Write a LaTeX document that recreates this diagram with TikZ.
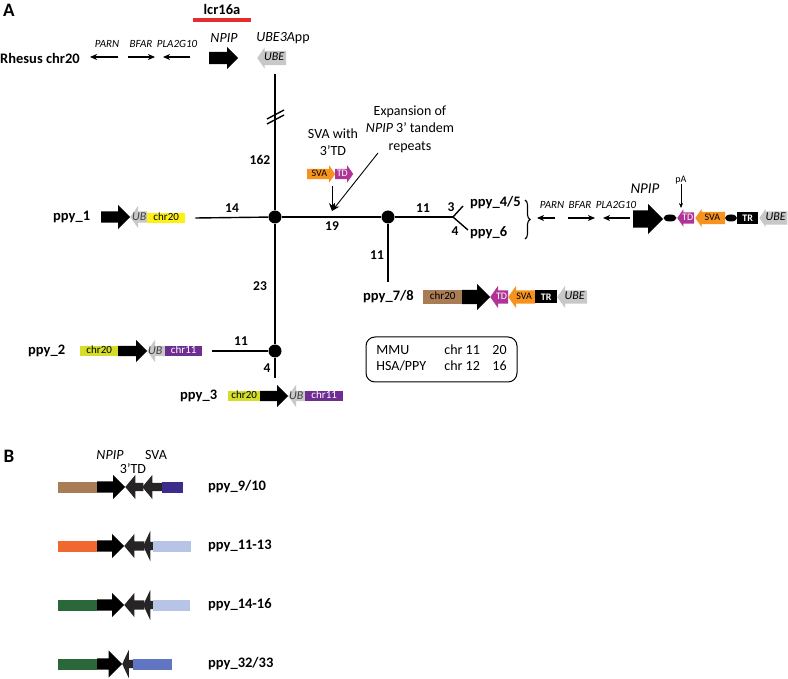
\documentclass[tikz,border=0pt]{standalone}
\usepackage{fontspec}
\setmainfont{Carlito}
\usetikzlibrary{shapes.arrows,shapes.geometric,arrows.meta,positioning,decorations.pathreplacing}

\definecolor{lcrred}{RGB}{230,45,45}
\definecolor{brightyel}{RGB}{255,240,20}
\definecolor{limeyel}{RGB}{212,222,40}
\definecolor{chrpurple}{RGB}{110,45,145}
\definecolor{chrbrown}{RGB}{168,124,84}
\definecolor{tdpink}{RGB}{176,52,150}
\definecolor{svaorange}{RGB}{246,146,30}
\definecolor{ubegray}{RGB}{200,200,200}
\definecolor{redorange}{RGB}{240,104,48}
\definecolor{darkgreen}{RGB}{42,104,58}
\definecolor{paleblue}{RGB}{184,196,230}
\definecolor{indigo}{RGB}{62,44,140}
\definecolor{midblue}{RGB}{96,118,194}
\definecolor{nearblack}{RGB}{38,36,36}

\tikzset{
  lab/.style={font=\bfseries\fontsize{14.5}{16}\selectfont, inner sep=0pt},
  num/.style={font=\bfseries\fontsize{13.5}{15}\selectfont, inner sep=0pt},
  txt/.style={font=\fontsize{14}{17.5}\selectfont, inner sep=0pt, align=center},
  gname/.style={font=\itshape\fontsize{11}{12}\selectfont, inner sep=0pt},
  branch/.style={line width=1.4pt},
  dot/.style={circle, fill=black, inner sep=0pt, minimum size=13pt},
  thinarr/.style={line width=1.2pt, -{Stealth[length=7pt,width=6pt,inset=2pt]}},
  pointer/.style={line width=0.9pt, -{Stealth[length=8pt,width=6pt]}},
  gene/.style={single arrow, draw=none, inner xsep=0pt, inner ysep=0pt, minimum width=0pt,
    font=\fontsize{10}{10}\selectfont},
  dims/.style 2 args={text height={#1*0.5pt+3pt}, text depth={#1*0.5pt-3pt},
    single arrow head extend={(#2-#1)*0.5pt}},
  leftward/.style={shape border rotate=180},
  chrbox/.style={rectangle, inner sep=0pt, text height=7pt, text depth=2pt,
    font=\fontsize{11}{11}\selectfont, anchor=west},
  ubtxt/.style={font=\itshape\fontsize{12}{12}\selectfont, text=black!75, inner sep=0pt, anchor=west},
}

\begin{document}
\begin{tikzpicture}[x=1pt,y=-1pt]
\useasboundingbox (0,0) rectangle (788,679);

% panel A: rhesus
\node[lab, font=\bfseries\fontsize{19}{20}\selectfont] (pa) at (9,10) {A};
\node[lab] (lcr) at (222,9) {lcr16a};
\draw[lcrred, line width=3.2pt] (193,20) -- (251,20);
\node[lab, anchor=west] (rhesus) at (0,58) {Rhesus chr20};
\node[gname] (parn0) at (107,44) {PARN};
\node[gname] (bfar0) at (141,44) {BFAR};
\node[gname] (pla0) at (177,44) {PLA2G10};
\draw[thinarr] (118,57) -- (90,57);
\draw[thinarr] (128,57) -- (155,57);
\draw[thinarr] (190,57) -- (163,57);
\node[gene, fill=black, dims={12}{22}, minimum height=29pt, anchor=tail] (npip0) at (209,58) {};
\node[gname, font=\itshape\fontsize{14}{16}\selectfont] (npiplab0) at (224,38) {NPIP};
\node[gname, font=\fontsize{14}{16}\selectfont] (ubelab0) at (283,38) {\textit{UBE3A}pp};
\node[gene, leftward, fill=ubegray, dims={14}{21}, minimum height=29pt, anchor=tip, single arrow tip angle=110,
  font=\itshape\fontsize{12}{12}\selectfont] (ube0) at (257,58) {UBE};

% tree
\coordinate (top) at (275,74);
\node[dot] (j1) at (275,217) {};
\node[dot] (j2) at (388,217) {};
\node[dot] (j3) at (275,351) {};
\coordinate (fk) at (453,217);
\coordinate (e45) at (463,206);
\coordinate (e6) at (468,230);
\coordinate (e78) at (388,282);
\coordinate (e3) at (275,378);
\draw[branch] (top) -- (j1);
\draw[branch] (267,119) -- (284,110) (267,124) -- (284,115);
\draw[branch] (j1) -- (j2);
\draw[branch] (j2) -- (fk);
\draw[branch] (fk) -- (e45);
\draw[branch] (fk) -- (e6);
\draw[branch] (j2) -- (e78);
\draw[branch] (j1) -- (j3);
\draw[branch] (j3) -- (e3);
\node[num] (n162) at (260,160) {162};
\node[num] (n14) at (232,208) {14};
\node[num] (n19) at (332,226) {19};
\node[num] (n11a) at (423,208) {11};
\node[num] (n3) at (451,207) {3};
\node[num] (n4a) at (455,231) {4};
\node[num] (n11b) at (377,255) {11};
\node[num] (n23) at (260,286) {23};
\node[num] (n11c) at (241,341) {11};
\node[num] (n4b) at (267,368) {4};

% ppy_1
\node[lab, anchor=west] (ppy1) at (53,217) {ppy\_1};
\node[gene, fill=black, dims={11}{24}, minimum height=29pt, anchor=tail] (p1n) at (101,217) {};
\node[gene, leftward, fill=ubegray, dims={11}{22}, minimum height=17pt, anchor=tip, single arrow tip angle=110] (p1u) at (130,217) {};
\node[ubtxt] (p1ut) at (132,217) {UB};
\node[chrbox, fill=brightyel, minimum width=38pt, minimum height=10pt] (p1c) at (147,218) {chr20};
\draw[branch] ([xshift=10pt]p1c.east) -- (j1);

% ppy_2 and ppy_3
\node[lab, anchor=west] (ppy2) at (28,351) {ppy\_2};
\node[chrbox, fill=limeyel, minimum width=38pt, minimum height=10pt] (p2c) at (80,351) {chr20};
\node[gene, fill=black, dims={10}{22}, minimum height=29pt, anchor=tail] (p2n) at (118,351) {};
\node[gene, leftward, fill=ubegray, dims={10}{22}, minimum height=18pt, anchor=tip, single arrow tip angle=110] (p2u) at (147,351) {};
\node[ubtxt] (p2ut) at (148,351) {UB};
\node[chrbox, fill=chrpurple, text=white, minimum width=37pt, minimum height=10pt] (p2d) at (165,351) {chr11};
\draw[branch] ([xshift=10pt]p2d.east) -- (j3);

\node[lab, anchor=west] (ppy3) at (180,396) {ppy\_3};
\node[chrbox, fill=limeyel, minimum width=32pt, minimum height=10pt] (p3c) at (228,396) {chr20};
\node[gene, fill=black, dims={10}{22}, minimum height=28pt, anchor=tail] (p3n) at (260,396) {};
\node[gene, leftward, fill=ubegray, dims={10}{22}, minimum height=17pt, anchor=tip, single arrow tip angle=110] (p3u) at (288,396) {};
\node[ubtxt] (p3ut) at (289,396) {UB};
\node[chrbox, fill=chrpurple, text=white, minimum width=38pt, minimum height=10pt] (p3d) at (305,396) {chr11};

% SVA insertion and NPIP expansion
\node[txt] (svaw) at (333,142) {SVA with\\3’TD};
\node[gene, fill=svaorange, dims={10}{17}, minimum height=28pt, anchor=tail,
  single arrow tip angle=110] (sva1) at (307,174) {SVA};
\node[gene, fill=tdpink, text=white, dims={10}{17}, minimum height=18pt, anchor=tail,
  single arrow tip angle=110] (td1) at (335,174) {TD};
\node[txt] (expn) at (410,129) {Expansion of\\\textit{NPIP} 3’ tandem\\repeats};
\coordinate (hit) at (332,211);
\draw[pointer] (332,186) -- (hit);
\draw[pointer] (378,153) -- (hit);

% ppy_4/5 and ppy_6
\node[lab, anchor=west] (p45) at (470,203) {ppy\_4/5};
\node[lab, anchor=west] (p6) at (470,233) {ppy\_6};
\draw[line width=1.1pt, decorate, decoration={brace, amplitude=5pt}] (525,200) -- (525,239);
\node[gname] (parn1) at (552,205) {PARN};
\node[gname] (bfar1) at (580,205) {BFAR};
\node[gname] (pla1) at (616,205) {PLA2G10};
\draw[thinarr] (555,218) -- (537,218);
\draw[thinarr] (568,218) -- (595,218);
\draw[thinarr] (630,218) -- (603,218);
\node[gname, font=\itshape\fontsize{15}{16}\selectfont] (npiplab1) at (645,189) {NPIP};
\node[gene, fill=black, dims={17}{30}, minimum height=30pt, anchor=tail] (npip1) at (633,219) {};
\node[ellipse, fill=black, inner sep=0pt, minimum width=13pt, minimum height=7pt] (pa1) at (670,218) {};
\node[gene, leftward, fill=tdpink, text=white, dims={11}{17}, minimum height=17pt, anchor=tip,
  single arrow tip angle=110] (td2) at (677,218) {TD};
\node[font=\fontsize{10}{10}\selectfont, inner sep=0pt] (pAl) at (681,180) {pA};
\coordinate (pAt) at (681,208);
\draw[line width=0.6pt, -{Stealth[length=5pt,width=4pt]}] (pAl) -- (pAt);
\node[gene, leftward, fill=svaorange, dims={12}{18}, minimum height=30pt, anchor=tip,
  single arrow tip angle=110] (sva2) at (695,218) {SVA};
\node[ellipse, fill=black, inner sep=0pt, minimum width=12pt, minimum height=7pt] (pa2) at (731,218) {};
\node[rectangle, fill=black, text=white, inner sep=0pt, minimum width=21pt, minimum height=12pt,
  font=\bfseries\fontsize{10}{10}\selectfont, anchor=west] (tr2) at (737,218) {TR};
\node[gene, leftward, fill=ubegray, dims={13}{18}, minimum height=28pt, anchor=tip,
  single arrow tip angle=110, font=\itshape\fontsize{12}{12}\selectfont] (ube2) at (759,218) {UBE};

% ppy_7/8
\node[lab, anchor=west] (p78) at (363,297) {ppy\_7/8};
\node[chrbox, fill=chrbrown, minimum width=39pt, minimum height=14pt] (p78c) at (423,297) {chr20};
\node[gene, fill=black, dims={14}{26}, minimum height=28pt, anchor=tail] (p78n) at (462,297) {};
\node[gene, leftward, fill=tdpink, text=white, dims={13}{22}, minimum height=18pt, anchor=tip,
  single arrow tip angle=110] (td3) at (490,297) {TD};
\node[gene, leftward, fill=svaorange, dims={13}{22}, minimum height=27pt, anchor=tip,
  single arrow tip angle=110] (sva3) at (508,297) {SVA};
\node[rectangle, fill=black, text=white, inner sep=0pt, minimum width=22pt, minimum height=13pt,
  font=\bfseries\fontsize{10}{10}\selectfont, anchor=west] (tr3) at (535,297) {TR};
\node[gene, leftward, fill=ubegray, dims={13}{22}, minimum height=30pt, anchor=tip,
  single arrow tip angle=110, font=\itshape\fontsize{12}{12}\selectfont] (ube3) at (557,297) {UBE};

% key
\node[draw, rounded corners=9pt, line width=1pt, inner sep=0pt, minimum width=151pt, minimum height=45pt,
  font=\fontsize{14}{16}\selectfont] (key) at (441.5,359.5)
  {\begin{tabular}{@{}p{68pt}@{}p{48pt}@{}l@{}}MMU & chr 11 & 20\\ HSA/PPY & chr 12 & 16\end{tabular}};

% panel B
\node[lab, font=\bfseries\fontsize{19}{20}\selectfont] (pb) at (9,456) {B};
\node[txt] (npipb) at (110,455) {\textit{NPIP}};
\node[txt] (tdb) at (133,469) {3’TD};
\node[txt] (svab) at (156,455) {SVA};

\node[chrbox, fill=chrbrown, minimum width=39pt, minimum height=11pt] (b1a) at (58,487) {};
\node[gene, fill=black, dims={11}{24}, minimum height=28pt, anchor=tail] (b1n) at (97,487) {};
\node[gene, leftward, fill=nearblack, dims={8}{24}, minimum height=18pt, anchor=tip,
  single arrow tip angle=100] (b1t) at (125,487) {};
\node[gene, leftward, fill=nearblack, dims={8}{24}, minimum height=20pt, anchor=tip,
  single arrow tip angle=100] (b1s) at (142,487) {};
\node[chrbox, fill=indigo, minimum width=21pt, minimum height=11pt] (b1b) at (162,487) {};
\node[lab, anchor=west] (b1l) at (208,487) {ppy\_9/10};

\node[chrbox, fill=redorange, minimum width=39pt, minimum height=11pt] (b2a) at (58,546) {};
\node[gene, fill=black, dims={11}{24}, minimum height=27pt, anchor=tail] (b2n) at (97,546) {};
\node[gene, leftward, fill=nearblack, dims={9}{24}, minimum height=20pt, anchor=tip,
  single arrow tip angle=100] (b2t) at (124,546) {};
\node[gene, leftward, fill=nearblack, dims={8}{30}, minimum height=10pt, anchor=tip,
  single arrow tip angle=130] (b2s) at (143,546) {};
\node[chrbox, fill=paleblue, minimum width=38pt, minimum height=11pt] (b2b) at (153,546) {};
\node[lab, anchor=west] (b2l) at (208,546) {ppy\_11-13};

\node[chrbox, fill=darkgreen, minimum width=39pt, minimum height=11pt] (b3a) at (58,605) {};
\node[gene, fill=black, dims={11}{24}, minimum height=27pt, anchor=tail] (b3n) at (97,605) {};
\node[gene, leftward, fill=nearblack, dims={9}{24}, minimum height=20pt, anchor=tip,
  single arrow tip angle=100] (b3t) at (124,605) {};
\node[gene, leftward, fill=nearblack, dims={8}{30}, minimum height=10pt, anchor=tip,
  single arrow tip angle=130] (b3s) at (143,605) {};
\node[chrbox, fill=paleblue, minimum width=37pt, minimum height=11pt] (b3b) at (153,605) {};
\node[lab, anchor=west] (b3l) at (208,605) {ppy\_14-16};

\node[chrbox, fill=darkgreen, minimum width=39pt, minimum height=11pt] (b4a) at (58,664) {};
\node[gene, fill=black, dims={11}{27}, minimum height=25pt, anchor=tail] (b4n) at (97,664) {};
\node[gene, leftward, fill=nearblack, dims={8}{28}, minimum height=12pt, anchor=tip,
  single arrow tip angle=130] (b4s) at (122,664) {};
\node[chrbox, fill=midblue, minimum width=39pt, minimum height=11pt] (b4b) at (133,664) {};
\node[lab, anchor=west] (b4l) at (208,664) {ppy\_32/33};
\end{tikzpicture}
\end{document}
